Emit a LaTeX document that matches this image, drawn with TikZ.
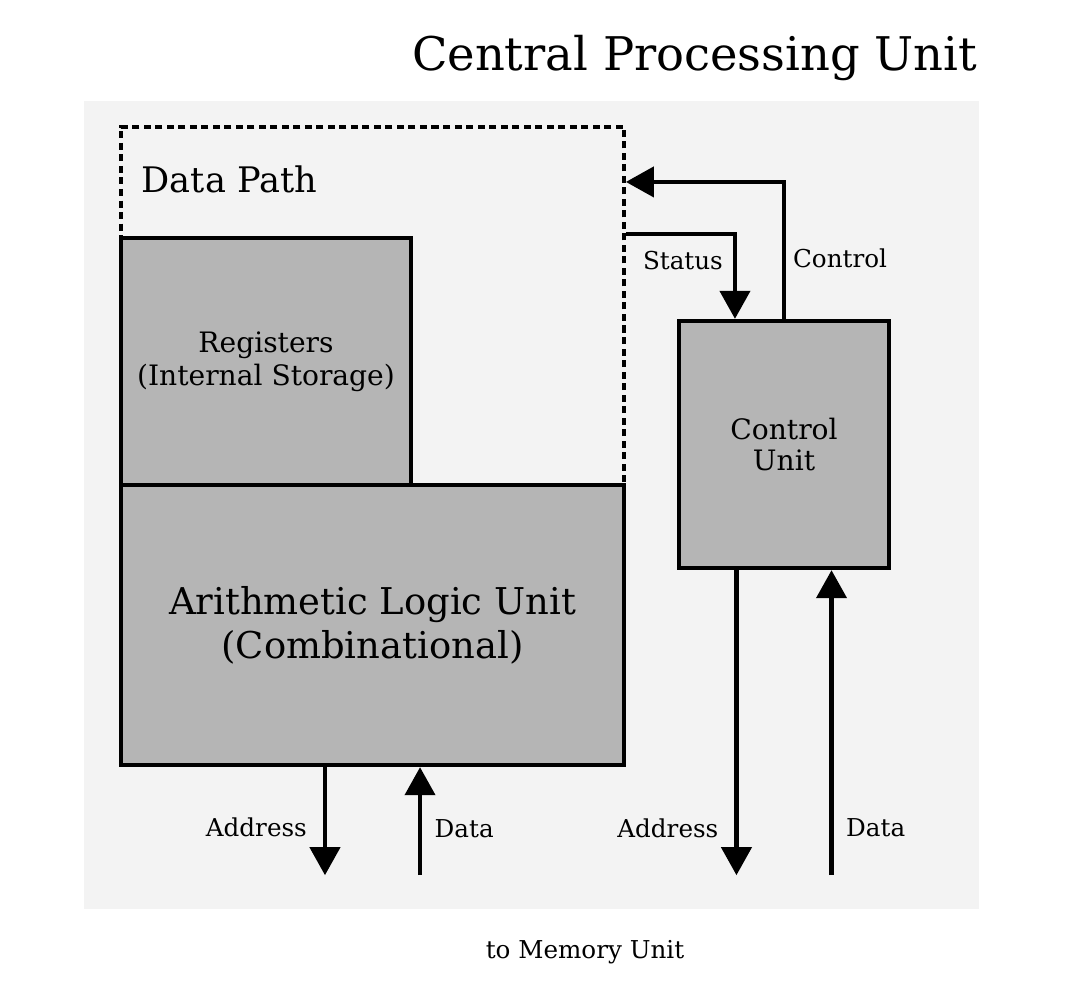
\documentclass[tikz,border=0pt]{standalone}
\usepackage{fontspec}
\setmainfont{DejaVu Serif}
\usepackage{tikz}
\usetikzlibrary{arrows.meta,positioning,calc}

\definecolor{panelgray}{HTML}{F3F3F3}
\definecolor{unitgray}{HTML}{B5B5B5}

\tikzset{
    unit/.style={draw, line width=1.2pt, fill=unitgray, align=center, inner sep=0pt},
    flow/.style={line width=1.2pt, -{Triangle[length=0.28cm, width=0.3cm]}},
    lbl/.style={font=\fontsize{7}{8}\selectfont, inner sep=0pt}
}

\begin{document}
\begin{tikzpicture}[x=0.01cm, y=-0.01cm]
    \useasboundingbox (0,0) rectangle (1075,1005);
    % Panel
    \fill[panelgray] (84,101) rectangle (979,909);
    \node[anchor=base east, inner sep=0pt, font=\fontsize{13.2}{15}\selectfont] (title) at (978,70) {Central Processing Unit};

    % Data path (dashed frame)
    \node[draw, line width=1pt, dash pattern=on 0.07cm off 0.045cm,
          minimum width=5.03cm, minimum height=3.58cm] (dp) at (372.5,306) {};
    \node[anchor=west, inner sep=0pt, font=\fontsize{10}{12}\selectfont] (dplbl) at (141,179) {Data Path};

    % Units
    \node[unit, minimum width=2.9cm, minimum height=2.47cm, font=\fontsize{8}{9.5}\selectfont] (reg) at (266,361.5) {Registers\\(Internal Storage)};
    \node[unit, minimum width=5.03cm, minimum height=2.8cm, font=\fontsize{10.5}{12.5}\selectfont] (alu) at (372.5,625) {Arithmetic Logic Unit\\(Combinational)};
    \node[unit, minimum width=2.1cm, minimum height=2.47cm, font=\fontsize{8}{9}\selectfont] (cu) at (784,444.5) {Control\\Unit};

    % Status / Control
    \draw[flow] ([yshift=0.72cm]dp.east) -| node[lbl, pos=0.655, left=0.1cm] (stlbl) {Status} ([xshift=-0.49cm]cu.north);
    \draw[flow] (cu.north) |- node[lbl, pos=0.22, right=0.07cm] (ctlbl) {Control} ([yshift=1.24cm]dp.east);

    % To memory
    \draw[flow] ([xshift=-0.475cm]alu.south) -- node[lbl, pos=0.56, left=0.16cm] (aadr) {Address} ++(0,108);
    \draw[flow] ([xshift=0.475cm]alu.south) ++(0,108) coordinate (adat) -- ([xshift=0.475cm]alu.south);
    \node[lbl, right=0.14cm] (adatlbl) at ($(adat)+(0,-47)$) {Data};
    \draw[flow] ([xshift=-0.475cm]cu.south) -- node[lbl, pos=0.845, left=0.16cm] (cadr) {Address} ++(0,305);
    \draw[flow] ([xshift=0.475cm]cu.south) ++(0,305) coordinate (cdat) -- ([xshift=0.475cm]cu.south);
    \node[lbl, right=0.14cm] (cdatlbl) at ($(cdat)+(0,-47)$) {Data};

    \node[lbl] (mem) at (585,952) {to Memory Unit};
\end{tikzpicture}
\end{document}
